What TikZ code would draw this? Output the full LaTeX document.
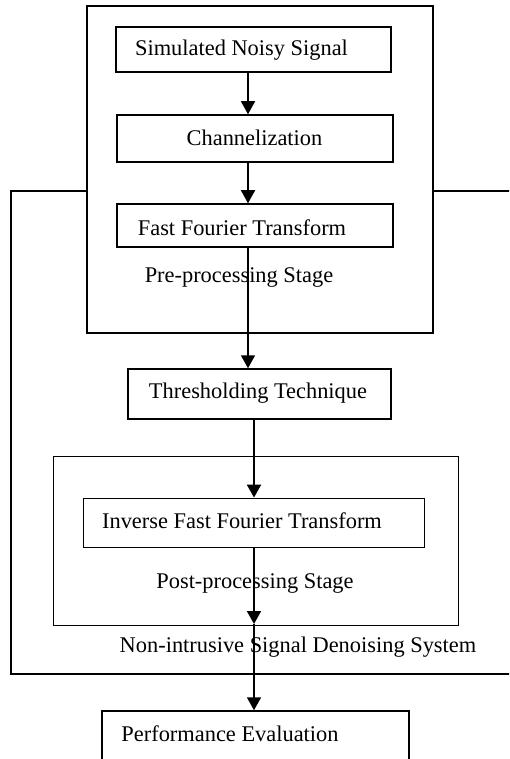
\documentclass[tikz,border=0pt]{standalone}
\usepackage{fontspec}
\setmainfont{Liberation Serif}
\usetikzlibrary{arrows.meta}
\tikzset{
  boxnode/.style={draw, line width=1.5pt, fill=white, inner sep=0pt, rectangle},
  thinbox/.style={draw, line width=0.9pt, fill=white, inner sep=0pt, rectangle},
  lbl/.style={inner sep=0pt, font=\fontsize{22.4}{26}\selectfont},
  arr/.style={line width=1.5pt, -{Triangle[width=14pt,length=13pt]}},
}
\begin{document}
\begin{tikzpicture}[x=1pt,y=-1pt]
\useasboundingbox (0,0) rectangle (509,759);
\clip (0,0) rectangle (509,759);
% outer system box
\draw[line width=1.5pt] (11,191) rectangle (525,674);
% pre-processing stage
\node[boxnode, minimum width=346pt, minimum height=327pt] (pre) at (260,169.5) {};
\node[boxnode, minimum width=275pt, minimum height=45pt] (sim) at (253.5,49.5) {};
\node[boxnode, minimum width=276pt, minimum height=47pt] (ch) at (255,138.5) {};
\node[boxnode, minimum width=276pt, minimum height=43pt] (fft) at (255,225.5) {};
\node[lbl] (tsim) at (241.5,50) {Simulated Noisy Signal};
\node[lbl] (tch) at (254.5,138) {Channelization};
\node[lbl] (tfft) at (242,228) {Fast Fourier Transform};
\node[lbl] (tpre) at (239,278) {Pre-processing Stage};
% thresholding
\node[boxnode, minimum width=263pt, minimum height=50pt] (thr) at (259.5,394) {};
\node[lbl] (tthr) at (258,393) {Thresholding Technique};
% post-processing stage
\node[thinbox, minimum width=405pt, minimum height=169pt] (post) at (255.5,540.5) {};
\node[thinbox, minimum width=341pt, minimum height=49pt] (ifft) at (253.5,522.5) {};
\node[lbl] (tifft) at (242,521) {Inverse Fast Fourier Transform};
\node[lbl] (tpost) at (255,583) {Post-processing Stage};
\node[lbl] (tsys) at (298,647) {Non-intrusive Signal Denoising System};
% performance evaluation
\node[boxnode, minimum width=307pt, minimum height=69pt] (perf) at (255.5,745.5) {};
\node[lbl] (tperf) at (230,734) {Performance Evaluation};
% connectors
\coordinate (ua) at (248,0);
\coordinate (lb) at (254,0);
\coordinate (c1) at (254,624);
\draw[arr] (sim.south -| ua) -- (ch.north -| ua);
\draw[arr] (ch.south -| ua) -- (fft.north -| ua);
\draw[arr] (fft.south -| ua) -- (thr.north -| ua);
\draw[arr, line width=2.2pt] (thr.south -| lb) -- (ifft.north -| lb);
\draw[arr, line width=1.8pt] (ifft.south -| lb) -- (c1);
\draw[arr, line width=1.8pt] (c1) -- (perf.north -| lb);
\end{tikzpicture}
\end{document}
